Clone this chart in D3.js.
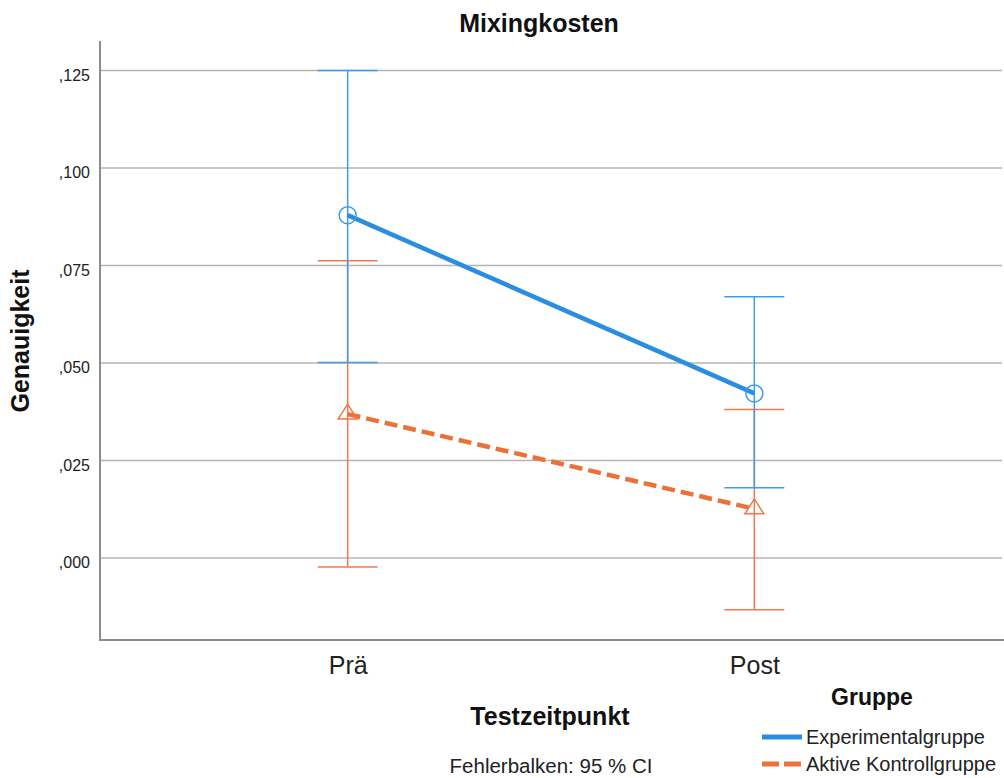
<!DOCTYPE html>
<html>
<head>
<meta charset="utf-8">
<script src="https://cdn.jsdelivr.net/npm/d3@7"></script>
<style>
  html, body { margin: 0; padding: 0; background: #fff; }
  svg { display: block; font-family: "Liberation Sans", Arial, sans-serif; }
</style>
</head>
<body>
<svg id="chart" width="1004" height="778"></svg>
<script>
// Mixing costs (accuracy) per test time and group, with 95 % CI
const timepoints = ["Prä", "Post"];
const groups = ["Experimentalgruppe", "Aktive Kontrollgruppe"];
const expMean  = [0.0879, 0.0422];
const expLow   = [0.0501, 0.0180];
const expHigh  = [0.1250, 0.0670];
const ctrlMean = [0.0369, 0.0126];
const ctrlLow  = [-0.0023, -0.0133];
const ctrlHigh = [0.0762, 0.0381];
const yTicks = [0, 0.025, 0.05, 0.075, 0.1, 0.125];

const svg = d3.select("#chart");
const plotLeft = 100, plotRight = 1002, plotTop = 41, plotBottom = 640;

const x = d3.scalePoint().domain(timepoints).range([plotLeft, plotRight]).padding(0.609);
const y = d3.scaleLinear().domain([-0.02103, 0.13256]).range([plotBottom, plotTop]);

const fmt = v => d3.format(".3f")(v).replace("0.", ",");

// gridlines
svg.append("g").selectAll("line").data(yTicks).join("line")
  .attr("x1", plotLeft).attr("x2", plotRight)
  .attr("y1", d => y(d)).attr("y2", d => y(d))
  .attr("stroke", "#b4b4b4").attr("stroke-width", 1.5);

// y axis
const yAxis = svg.append("g").attr("transform", `translate(${plotLeft},0)`)
  .call(d3.axisLeft(y).tickValues(yTicks).tickSize(0).tickPadding(9).tickFormat(fmt));
yAxis.select(".domain").remove();
yAxis.selectAll("text").attr("font-size", 16).attr("fill", "#222")
  .attr("font-family", "Liberation Sans, Arial, sans-serif")
  .attr("dy", "0.62em").attr("dx", -1);

// x axis
const xAxis = svg.append("g").attr("transform", `translate(0,${plotBottom})`)
  .call(d3.axisBottom(x).tickSize(0).tickPadding(16));
xAxis.select(".domain").remove();
xAxis.selectAll("text").attr("font-size", 25).attr("fill", "#222")
  .attr("font-family", "Liberation Sans, Arial, sans-serif").attr("dy", "0.72em");

// axis frame lines
svg.append("line").attr("x1", plotLeft).attr("x2", plotLeft).attr("y1", plotTop).attr("y2", plotBottom)
  .attr("stroke", "#8c8c8c").attr("stroke-width", 2);
svg.append("line").attr("x1", plotLeft - 1).attr("x2", plotRight + 2).attr("y1", plotBottom).attr("y2", plotBottom)
  .attr("stroke", "#8c8c8c").attr("stroke-width", 2);

const blue = "#2b8de0", blueBar = "#3f9ce6";
const orange = "#ea7138", orangeBar = "#ee7a4c";
const capHalf = 30;

function errorBars(low, high, color) {
  const g = svg.append("g").attr("stroke", color).attr("stroke-width", 1.5).attr("fill", "none");
  timepoints.forEach((t, i) => {
    g.append("line").attr("x1", x(t)).attr("x2", x(t)).attr("y1", y(low[i])).attr("y2", y(high[i]));
    g.append("line").attr("x1", x(t) - capHalf).attr("x2", x(t) + capHalf).attr("y1", y(low[i])).attr("y2", y(low[i]));
    g.append("line").attr("x1", x(t) - capHalf).attr("x2", x(t) + capHalf).attr("y1", y(high[i])).attr("y2", y(high[i]));
  });
}
errorBars(ctrlLow, ctrlHigh, orangeBar);
errorBars(expLow, expHigh, blueBar);

const line = d3.line().x((d, i) => x(timepoints[i])).y(d => y(d));

svg.append("path").datum(ctrlMean).attr("d", line)
  .attr("fill", "none").attr("stroke", orange).attr("stroke-width", 4.5)
  .attr("stroke-dasharray", "13,6");
svg.append("path").datum(expMean).attr("d", line)
  .attr("fill", "none").attr("stroke", blue).attr("stroke-width", 4.5);

// markers
svg.append("g").selectAll("circle").data(expMean).join("circle")
  .attr("cx", (d, i) => x(timepoints[i])).attr("cy", d => y(d)).attr("r", 8.5)
  .attr("fill", "none").attr("stroke", blueBar).attr("stroke-width", 1.5);
svg.append("g").selectAll("path").data(ctrlMean).join("path")
  .attr("transform", (d, i) => `translate(${x(timepoints[i])},${y(d)})`)
  .attr("d", "M0,-10 L9.5,5 L-9.5,5 Z")
  .attr("fill", "none").attr("stroke", orangeBar).attr("stroke-width", 1.5);

// titles
svg.append("text").attr("x", 539).attr("y", 32).attr("text-anchor", "middle")
  .attr("font-size", 25).attr("font-weight", "bold").attr("fill", "#111").text("Mixingkosten");
svg.append("text").attr("transform", "translate(29,341) rotate(-90)").attr("text-anchor", "middle")
  .attr("font-size", 25).attr("font-weight", "bold").attr("fill", "#111").text("Genauigkeit");
svg.append("text").attr("x", 550).attr("y", 725).attr("text-anchor", "middle")
  .attr("font-size", 25).attr("font-weight", "bold").attr("fill", "#111").text("Testzeitpunkt");
svg.append("text").attr("x", 551).attr("y", 773).attr("text-anchor", "middle")
  .attr("font-size", 20.5).attr("fill", "#222").text("Fehlerbalken: 95 % CI");

// legend
svg.append("text").attr("x", 872).attr("y", 705).attr("text-anchor", "middle")
  .attr("font-size", 23).attr("font-weight", "bold").attr("fill", "#111").text("Gruppe");
const legend = [
  { name: groups[0], color: blue, dash: null, y: 737 },
  { name: groups[1], color: orange, dash: "17,5", y: 764 }
];
const lg = svg.append("g").selectAll("g").data(legend).join("g");
lg.append("line").attr("x1", 762).attr("x2", 802).attr("y1", d => d.y).attr("y2", d => d.y)
  .attr("stroke", d => d.color).attr("stroke-width", 5)
  .attr("stroke-dasharray", d => d.dash);
lg.append("text").attr("x", 806).attr("y", d => d.y + 6.5)
  .attr("font-size", 20).attr("fill", "#222").text(d => d.name);
</script>
</body>
</html>
